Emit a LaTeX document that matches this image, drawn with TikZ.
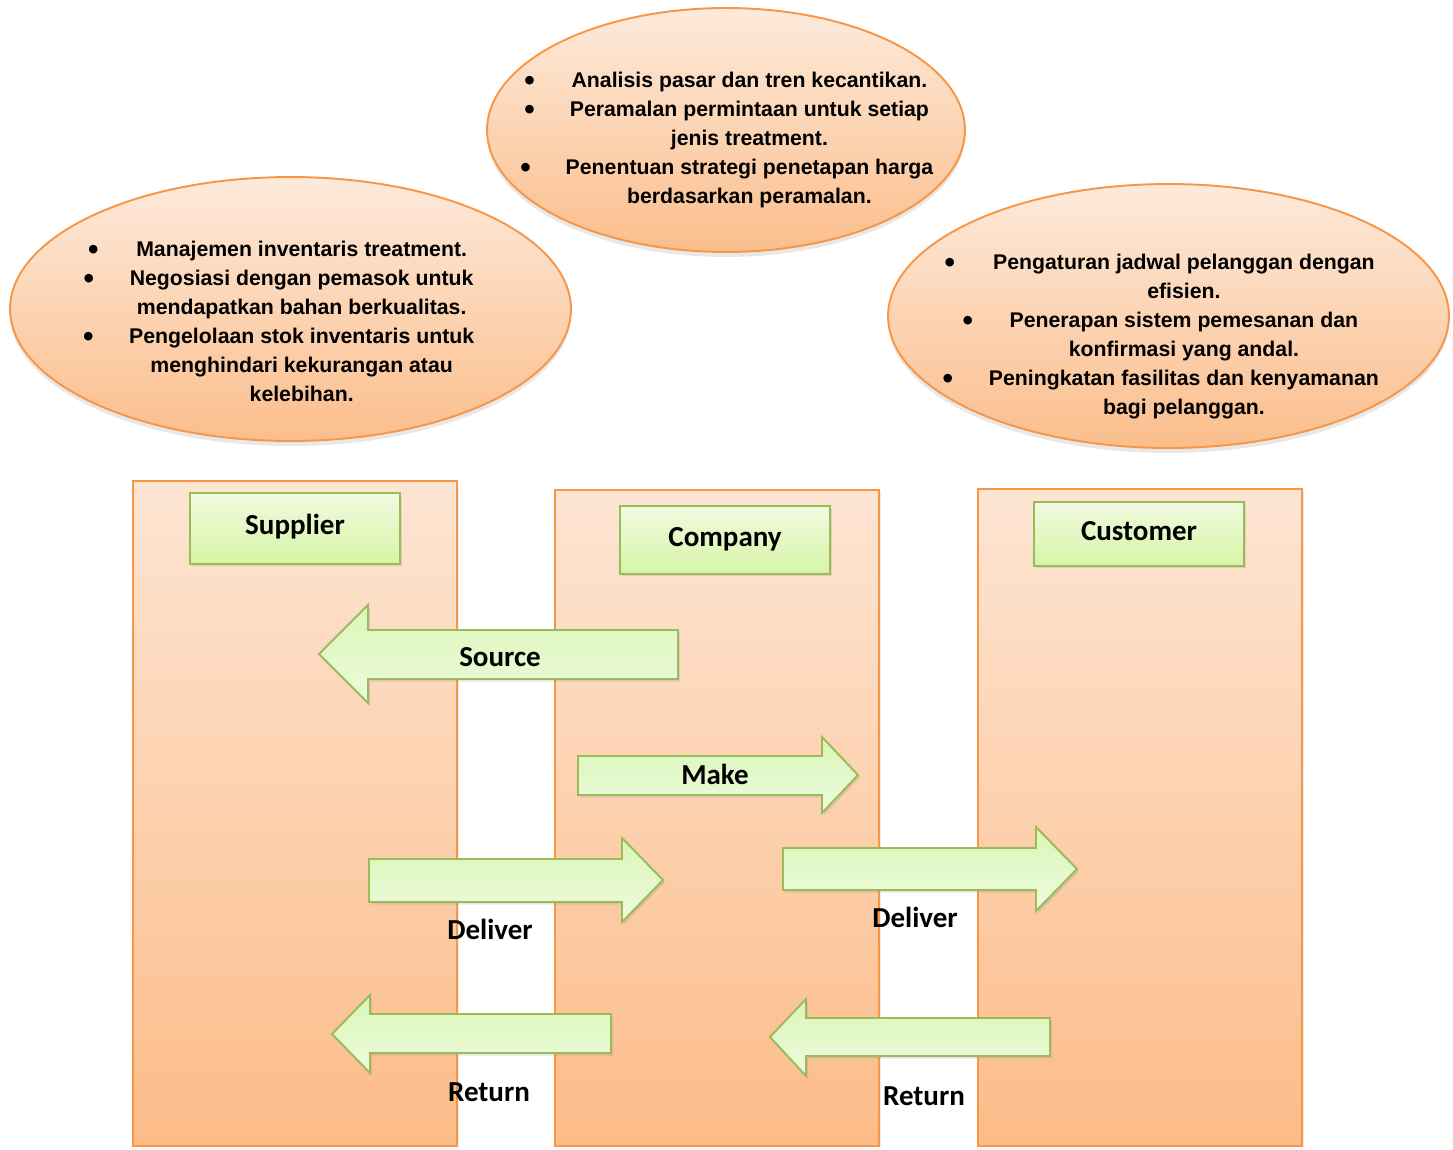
\documentclass[tikz,border=0pt]{standalone}
\usepackage{fontspec}
\usetikzlibrary{shapes.geometric}
\usetikzlibrary{shadows}

\newfontfamily\arialfont{Liberation Sans}
\newfontfamily\calibrifont{Carlito}

\definecolor{peachtop}{RGB}{253,234,219}
\definecolor{peachbot}{RGB}{251,190,140}
\definecolor{lanetop}{RGB}{253,229,211}
\definecolor{lanebot}{RGB}{252,188,136}
\definecolor{orangeline}{RGB}{247,150,70}
\definecolor{limetop}{RGB}{241,250,225}
\definecolor{limebot}{RGB}{214,245,166}
\definecolor{limeline}{RGB}{155,187,89}
\definecolor{arrowtop}{RGB}{218,246,182}
\definecolor{arrowbot}{RGB}{237,251,222}

% larger list dot
\newcommand{\dotitem}{\raisebox{-0.25ex}{\fontsize{17}{16.5}\selectfont\textbullet}}

\tikzset{
  bubble/.style={ellipse, draw=orangeline, line width=1.1pt, top color=peachtop, bottom color=peachbot, inner sep=0pt,
    drop shadow={shadow xshift=0pt, shadow yshift=-0.1cm, opacity=0.18}},
  bullets/.style={anchor=base, inner sep=0pt, font=\arialfont\bfseries\fontsize{12.1}{16.5}\selectfont},
  lane/.style={draw=orangeline, line width=0.9pt, top color=lanetop, bottom color=lanebot,
    drop shadow={shadow xshift=0.04cm, shadow yshift=-0.02cm, opacity=0.15}},
  headbox/.style={rectangle, draw=limeline, line width=1.1pt, top color=limetop, bottom color=limebot,
    minimum width=4.2cm, text height=0.4cm, text depth=0.16cm, inner sep=0pt,
    font=\calibrifont\bfseries\fontsize{16.5}{20}\selectfont,
    drop shadow={shadow xshift=0.04cm, shadow yshift=-0.05cm, opacity=0.2}},
  blockarrow/.style={draw=limeline, line width=1.1pt, line join=miter, top color=arrowtop, bottom color=arrowbot,
    drop shadow={shadow xshift=0.04cm, shadow yshift=-0.05cm, opacity=0.2}},
  tag/.style={anchor=base, inner sep=0pt, font=\calibrifont\bfseries\fontsize{16.5}{20}\selectfont}
}

\begin{document}
\begin{tikzpicture}[x=0.02cm, y=-0.02cm]
\useasboundingbox (0,0) rectangle (1453,1149);

% swim lanes
\path[lane] (133,481) rectangle (457,1146);
\path[lane] (555,490) rectangle (879,1146);
\path[lane] (978,489) rectangle (1302,1146);

% lane headers
\node[headbox, minimum height=1.42cm] (supplier) at (295,528.5) {Supplier};
\node[headbox, minimum height=1.36cm] (company) at (725,540) {Company};
\node[headbox, minimum height=1.28cm] (customer) at (1139,534) {Customer};

% flows between the lanes
\path[blockarrow] (678,630) -- (368,630) -- (368,605) -- (319,654) -- (368,703) -- (368,679) -- (678,679) -- cycle;
\path[blockarrow] (578,756) -- (822,756) -- (822,737) -- (858,775) -- (822,813) -- (822,795) -- (578,795) -- cycle;
\path[blockarrow] (369,859) -- (622,859) -- (622,838) -- (663,880) -- (622,922) -- (622,902) -- (369,902) -- cycle;
\path[blockarrow] (783,848) -- (1036,848) -- (1036,827) -- (1077,869) -- (1036,911) -- (1036,890) -- (783,890) -- cycle;
\path[blockarrow] (611,1014) -- (370,1014) -- (370,995) -- (332,1034) -- (370,1073) -- (370,1053) -- (611,1053) -- cycle;
\path[blockarrow] (1050,1018) -- (806,1018) -- (806,999) -- (770,1037) -- (806,1076) -- (806,1056) -- (1050,1056) -- cycle;

\node[tag] (sourceT) at (500,666.5) {Source};
\node[tag] (makeT) at (715,784.5) {Make};
\node[tag] (deliverA) at (490,939.5) {Deliver};
\node[tag] (deliverB) at (915,927.5) {Deliver};
\node[tag] (returnA) at (489,1101.5) {Return};
\node[tag] (returnB) at (924,1105.5) {Return};

% activity bubbles
\node[bubble, minimum width=9.56cm, minimum height=4.88cm] (plan) at (726,130) {};
\node[bubble, minimum width=11.22cm, minimum height=5.28cm] (stock) at (290.5,309) {};
\node[bubble, minimum width=11.22cm, minimum height=5.28cm] (service) at (1168.5,316) {};

\node[bullets] (planT) at (726.7,87.5) {\begin{tabular}[t]{@{}l@{\hspace{0.62cm}}c@{}}
\hspace{0.08cm}\dotitem & Analisis pasar dan tren kecantikan.\\
\hspace{0.08cm}\dotitem & Peramalan permintaan untuk setiap\\
 & jenis treatment.\\
\dotitem & Penentuan strategi penetapan harga\\
 & berdasarkan peramalan.
\end{tabular}};

\node[bullets] (stockT) at (278.7,256.5) {\begin{tabular}[t]{@{}l@{\hspace{0.61cm}}c@{}}
\hspace{0.1cm}\dotitem & Manajemen inventaris treatment.\\
\hspace{0.01cm}\dotitem & Negosiasi dengan pemasok untuk\\
 & mendapatkan bahan berkualitas.\\
\dotitem & Pengelolaan stok inventaris untuk\\
 & menghindari kekurangan atau\\
 & kelebihan.
\end{tabular}};

\node[bullets] (serviceT) at (1160.7,269.5) {\begin{tabular}[t]{@{}l@{\hspace{0.32cm}}c@{}}
\hspace{0.04cm}\dotitem & Pengaturan jadwal pelanggan dengan\\
 & efisien.\\
\hspace{0.4cm}\dotitem & Penerapan sistem pemesanan dan\\
 & konfirmasi yang andal.\\
\dotitem & Peningkatan fasilitas dan kenyamanan\\
 & bagi pelanggan.
\end{tabular}};

\end{tikzpicture}
\end{document}
